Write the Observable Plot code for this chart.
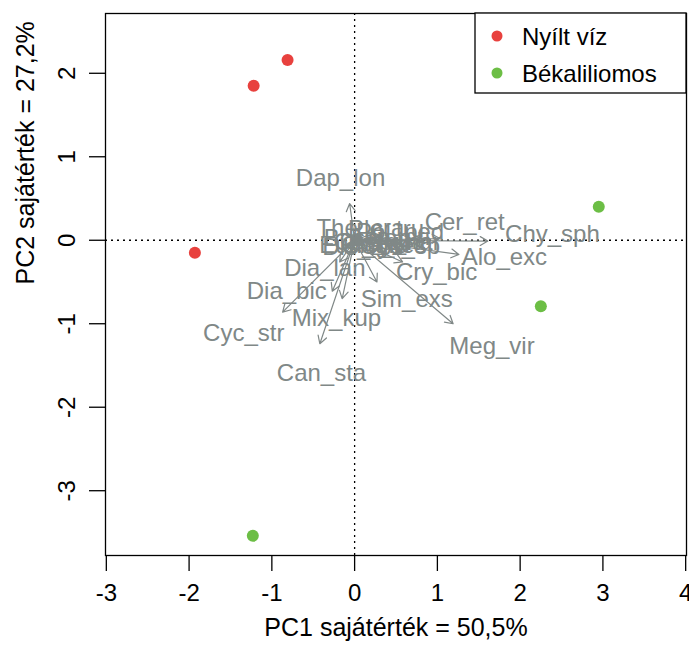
<!DOCTYPE html>
<html>
<head>
<meta charset="utf-8">
<script src="https://cdn.jsdelivr.net/npm/d3@7"></script>
<script src="https://cdn.jsdelivr.net/npm/@observablehq/plot@0.6"></script>
<style>
  body { margin: 0; background: #fff; }
  #chart svg { font-family: "Liberation Sans", Arial, sans-serif; }
</style>
</head>
<body>
<div id="chart"></div>
<script>
// Site scores on the first two principal components
const siteGroup = ["Nyílt víz", "Nyílt víz", "Nyílt víz", "Békaliliomos", "Békaliliomos", "Békaliliomos"];
const sitePC1 = [-0.81, -1.22, -1.93, 2.95, 2.25, -1.23];
const sitePC2 = [2.16, 1.85, -0.15, 0.40, -0.79, -3.54];

// Species loadings (arrow tips) and their label positions
const speciesNames = ["Dap_lon", "Cer_ret", "Chy_sph", "Alo_exc", "Cry_bic", "Sim_exs", "Meg_vir",
  "Can_sta", "Mix_kup", "Cyc_str", "Dia_bic", "Dia_lan",
  "The_cra", "Ple_tru", "Pol_ped", "Bos_lon", "Asp_pri", "Cer_qua", "Eud_gra", "Gra_tes", "Cyc_sp", "Dis_ros", "Ace_har"];
const loadPC1 = [-0.06, 1.03, 1.61, 1.26, 0.58, 0.27, 1.19,
  -0.42, -0.15, -0.87, -0.27, -0.18,
  0.04, 0.22, 0.33, 0.09, 0.25, 0.18, 0.07, 0.21, 0.33, 0.06, 0.30];
const loadPC2 = [0.44, 0.02, -0.01, -0.17, -0.26, -0.50, -1.00,
  -1.24, -0.70, -0.86, -0.61, -0.26,
  0.08, 0.08, 0.05, 0.01, 0.02, -0.01, -0.04, -0.04, -0.04, -0.05, -0.01];
const labelPC1 = [-0.17, 1.33, 2.39, 1.81, 0.99, 0.63, 1.66,
  -0.40, -0.22, -1.34, -0.82, -0.36,
  0.07, 0.38, 0.55, 0.15, 0.42, 0.30, 0.12, 0.35, 0.55, 0.10, 0.50];
const labelPC2 = [0.74, 0.22, 0.07, -0.20, -0.38, -0.71, -1.27,
  -1.59, -0.94, -1.12, -0.61, -0.34,
  0.14, 0.13, 0.09, 0.02, 0.03, -0.02, -0.06, -0.06, -0.07, -0.08, -0.02];

const xTicks = [-3, -2, -1, 0, 1, 2, 3, 4];
const yTicks = [-3, -2, -1, 0, 1, 2];
const groups = ["Nyílt víz", "Békaliliomos"];
const groupColors = ["#E8413E", "#6CBE45"];
const xTitle = "PC1 sajátérték = 50,5%";
const yTitle = "PC2 sajátérték = 27,2%";

const sites = siteGroup.map((g, i) => ({group: g, pc1: sitePC1[i], pc2: sitePC2[i]}));
const species = speciesNames.map((n, i) => ({
  name: n, x: loadPC1[i], y: loadPC2[i], lx: labelPC1[i], ly: labelPC2[i]
}));

const grey = "#808887";
const font = "Liberation Sans, Arial, sans-serif";

const chart = Plot.plot({
  width: 689,
  height: 650,
  marginLeft: 105,
  marginRight: 3,
  marginTop: 13,
  marginBottom: 95,
  style: {fontFamily: font, fontSize: "24px", background: "white", overflow: "visible"},
  x: {domain: [-3.01, 4.01]},
  y: {domain: [-3.776, 2.716]},
  color: {domain: groups, range: groupColors},
  marks: [
    Plot.ruleX([0], {stroke: "black", strokeWidth: 1.3, strokeDasharray: "2,4"}),
    Plot.ruleY([0], {stroke: "black", strokeWidth: 1.3, strokeDasharray: "2,4"}),
    Plot.arrow(species, {x1: () => 0, y1: () => 0, x2: "x", y2: "y",
      stroke: grey, strokeWidth: 1.2, headLength: 11, headAngle: 60}),
    Plot.text(species, {x: "lx", y: "ly", text: "name", fill: grey, fontSize: 24, fontFamily: font}),
    Plot.dot(sites, {x: "pc1", y: "pc2", fill: "group", r: 6}),
    Plot.frame({stroke: "black", strokeWidth: 1.3}),
    Plot.axisX({ticks: xTicks, tickSize: 16, tickPadding: 12, fontSize: 24,
      tickFormat: d => `${d}`, label: null, stroke: "black", strokeWidth: 1.3}),
    Plot.axisY({ticks: yTicks, tickSize: 16, tickFormat: () => "", label: null,
      stroke: "black", strokeWidth: 1.3}),
    Plot.text(yTicks, {x: () => -3.01, y: d => d, text: d => `${d}`, dx: -38,
      rotate: -90, fontSize: 24, fill: "black"}),
    Plot.text([xTitle], {frameAnchor: "bottom", dy: 80, text: d => d, fontSize: 25, fill: "black"}),
    Plot.text([yTitle], {frameAnchor: "left", dx: -80, rotate: -90, text: d => d, fontSize: 25, fill: "black"})
  ]
});

document.getElementById("chart").appendChild(chart);

// Legend in the top-right corner of the plotting region
const svg = d3.select(chart);
const frameRight = 689 - 3;
const frameTop = 13;
const legendW = 211, legendH = 80;
const legend = svg.append("g").attr("transform", `translate(${frameRight - legendW},${frameTop})`);
legend.append("rect")
  .attr("width", legendW).attr("height", legendH)
  .attr("fill", "white").attr("stroke", "black").attr("stroke-width", 1.3);
groups.forEach((g, i) => {
  const cy = 23 + i * 37;
  legend.append("circle").attr("cx", 22).attr("cy", cy).attr("r", 5.5).attr("fill", groupColors[i]);
  legend.append("text").attr("x", 47).attr("y", cy + 9)
    .attr("text-anchor", "start")
    .attr("font-size", 24).attr("font-family", font).attr("fill", "black").text(g);
});
</script>
</body>
</html>
